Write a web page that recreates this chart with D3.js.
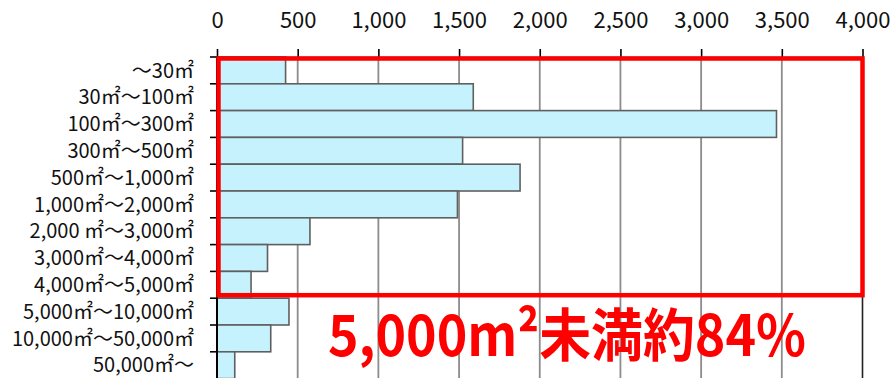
<!DOCTYPE html>
<html>
<head>
<meta charset="utf-8">
<script src="https://cdn.jsdelivr.net/npm/d3@7"></script>
<style>
  html, body { margin: 0; padding: 0; background: #fff; }
  svg { display: block; }
</style>
</head>
<body>
<script>
// Land-area brackets (top to bottom) and counts per bracket
const categories = [
  "〜30㎡", "30㎡〜100㎡", "100㎡〜300㎡", "300㎡〜500㎡",
  "500㎡〜1,000㎡", "1,000㎡〜2,000㎡", "2,000 ㎡〜3,000㎡",
  "3,000㎡〜4,000㎡", "4,000㎡〜5,000㎡", "5,000㎡〜10,000㎡",
  "10,000㎡〜50,000㎡", "50,000㎡〜"
];
const counts = [425, 1588, 3467, 1522, 1878, 1490, 576, 313, 211, 446, 333, 110];
const tickValues = [0, 500, 1000, 1500, 2000, 2500, 3000, 3500, 4000];
const highlightCount = 9; // brackets under 5,000㎡
const noteText = "5,000m²未満約84%";

const W = 891, H = 378;
const plotLeft = 217, plotRight = 862.5, plotTop = 57, bandH = 26.8;

const svg = d3.select("body").append("svg")
  .attr("width", W).attr("height", H);

const x = d3.scaleLinear().domain([0, 4000]).range([plotLeft, plotRight]);
const y = d3.scaleBand().domain(categories)
  .range([plotTop, plotTop + bandH * categories.length]).padding(0);

const font = "'Noto Sans CJK JP', 'Noto Sans', sans-serif";

// vertical gridlines
svg.append("g").selectAll("line")
  .data(tickValues.filter(v => v > 0 && v < 4000))
  .join("line")
  .attr("x1", d => x(d)).attr("x2", d => x(d))
  .attr("y1", plotTop).attr("y2", H)
  .attr("stroke", "#8c8c8c").attr("stroke-width", 1.8);

// right border of plot area
svg.append("line")
  .attr("x1", x(4000)).attr("x2", x(4000))
  .attr("y1", plotTop).attr("y2", H)
  .attr("stroke", "#222").attr("stroke-width", 1.6);

// bars
svg.append("g").selectAll("rect")
  .data(categories)
  .join("rect")
  .attr("x", x(0))
  .attr("y", d => y(d))
  .attr("width", (d, i) => x(counts[i]) - x(0))
  .attr("height", y.bandwidth())
  .attr("fill", "#c6f2fe")
  .attr("stroke", "#5f5f5f")
  .attr("stroke-width", 1.6);

// top value axis
const xAxis = svg.append("g")
  .attr("transform", `translate(0,${plotTop})`)
  .call(d3.axisTop(x).tickValues(tickValues).tickSize(8).tickSizeOuter(0)
    .tickFormat(d3.format(",")));
xAxis.select(".domain").attr("stroke", "#000").attr("stroke-width", 1.6);
xAxis.selectAll(".tick line").attr("stroke", "#000").attr("stroke-width", 1.6);
xAxis.selectAll(".tick text")
  .attr("font-family", font).attr("font-size", 22).attr("fill", "#111")
  .attr("y", -29);

// left category axis with ticks at band boundaries
const yAxis = svg.append("g").attr("transform", `translate(${plotLeft},0)`);
yAxis.append("line")
  .attr("x1", 0).attr("x2", 0).attr("y1", plotTop).attr("y2", H)
  .attr("stroke", "#000").attr("stroke-width", 2);
yAxis.selectAll("line.b")
  .data(categories)
  .join("line").attr("class", "b")
  .attr("x1", -7).attr("x2", 0)
  .attr("y1", d => y(d)).attr("y2", d => y(d))
  .attr("stroke", "#000").attr("stroke-width", 1.6);
yAxis.selectAll("text")
  .data(categories)
  .join("text")
  .attr("x", -23)
  .attr("y", d => y(d) + y.bandwidth() / 2)
  .attr("dy", "0.36em")
  .attr("text-anchor", "end")
  .attr("font-family", font).attr("font-size", 20).attr("fill", "#111")
  .text(d => d);

// highlight frame around the brackets under 5,000㎡
const hiBottom = y(categories[highlightCount - 1]) + y.bandwidth();
svg.append("rect")
  .attr("x", 218.5).attr("y", 58.5)
  .attr("width", x(4000) - 218.5)
  .attr("height", hiBottom - 58.5 - 3)
  .attr("fill", "none")
  .attr("stroke", "#ff0000").attr("stroke-width", 4.5);

svg.append("text")
  .attr("x", 328).attr("y", 356)
  .attr("font-family", font).attr("font-weight", "bold")
  .attr("font-size", 57).attr("fill", "#ff0000")
  .attr("textLength", 478).attr("lengthAdjust", "spacingAndGlyphs")
  .text(noteText);
</script>
</body>
</html>
